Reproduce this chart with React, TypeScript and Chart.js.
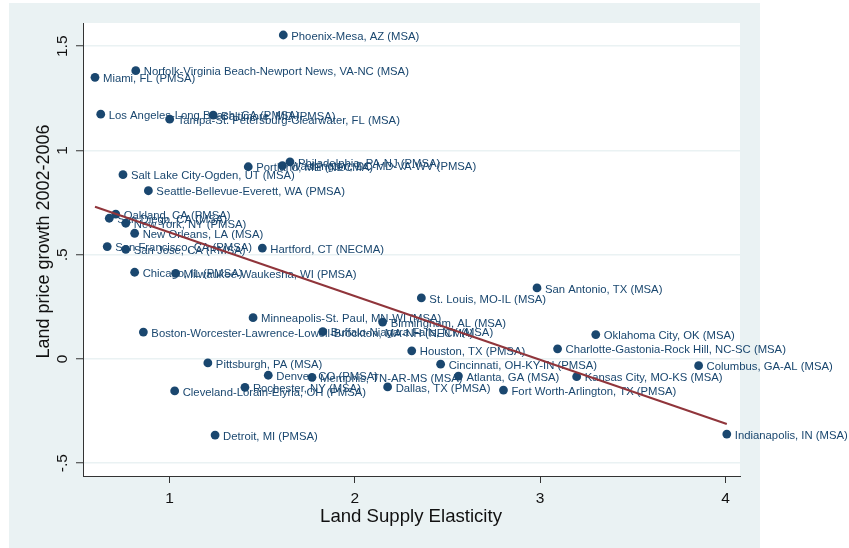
import React, { useEffect, useRef } from "react";
import { Chart, registerables } from "chart.js";

Chart.register(...registerables);

const cityNames: string[] = [
  "Phoenix-Mesa, AZ (MSA)",
  "Norfolk-Virginia Beach-Newport News, VA-NC (MSA)",
  "Miami, FL (PMSA)",
  "Los Angeles-Long Beach, CA (PMSA)",
  "Baltimore, MD (PMSA)",
  "Tampa-St. Petersburg-Clearwater, FL (MSA)",
  "Portland, ME (NECMA)",
  "Washington, DC-MD-VA-WV (PMSA)",
  "Philadelphia, PA-NJ (PMSA)",
  "Salt Lake City-Ogden, UT (MSA)",
  "Seattle-Bellevue-Everett, WA (PMSA)",
  "Oakland, CA (PMSA)",
  "San Diego, CA (MSA)",
  "New York, NY (PMSA)",
  "New Orleans, LA (MSA)",
  "San Francisco, CA (PMSA)",
  "San Jose, CA (PMSA)",
  "Hartford, CT (NECMA)",
  "Chicago, IL (PMSA)",
  "Milwaukee-Waukesha, WI (PMSA)",
  "St. Louis, MO-IL (MSA)",
  "San Antonio, TX (MSA)",
  "Minneapolis-St. Paul, MN-WI (MSA)",
  "Birmingham, AL (MSA)",
  "Boston-Worcester-Lawrence-Lowell-Brockton, MA-NH (NECMA)",
  "Buffalo-Niagara Falls, NY (MSA)",
  "Oklahoma City, OK (MSA)",
  "Charlotte-Gastonia-Rock Hill, NC-SC (MSA)",
  "Houston, TX (PMSA)",
  "Pittsburgh, PA (MSA)",
  "Cincinnati, OH-KY-IN (PMSA)",
  "Columbus, GA-AL (MSA)",
  "Denver, CO (PMSA)",
  "Memphis, TN-AR-MS (MSA)",
  "Atlanta, GA (MSA)",
  "Kansas City, MO-KS (MSA)",
  "Rochester, NY (MSA)",
  "Cleveland-Lorain-Elyria, OH (PMSA)",
  "Dallas, TX (PMSA)",
  "Fort Worth-Arlington, TX (PMSA)",
  "Detroit, MI (PMSA)",
  "Indianapolis, IN (MSA)",
];

const elasticity: number[] = [
  1.614, 0.818, 0.598, 0.629, 1.236, 1.001, 1.425, 1.609, 1.65, 0.749, 0.886,
  0.71, 0.675, 0.764, 0.812, 0.664, 0.764, 1.501, 0.812, 1.033, 2.359, 2.983,
  1.451, 2.15, 0.859, 1.827, 3.3, 3.094, 2.307, 1.207, 2.463, 3.855, 1.533,
  1.769, 2.559, 3.197, 1.407, 1.028, 2.177, 2.802, 1.246, 4.007,
];

const priceGrowth: number[] = [
  1.554, 1.383, 1.351, 1.174, 1.17, 1.15, 0.922, 0.927, 0.945, 0.884, 0.807,
  0.695, 0.675, 0.651, 0.603, 0.539, 0.526, 0.532, 0.416, 0.411, 0.293, 0.341,
  0.198, 0.177, 0.129, 0.131, 0.117, 0.049, 0.039, -0.019, -0.025, -0.032,
  -0.078, -0.088, -0.082, -0.085, -0.136, -0.153, -0.134, -0.149, -0.365,
  -0.36,
];

const fitX: number[] = [0.598, 4.007];
const fitY: number[] = [0.73, -0.312];

const xTickValues: number[] = [1, 2, 3, 4];
const yTickValues: number[] = [-0.5, 0, 0.5, 1, 1.5];
const yTickLabels: string[] = ["-.5", "0", ".5", "1", "1.5"];

const xTitle = "Land Supply Elasticity";
const yTitle = "Land price growth 2002-2006";

const FONT = '"Liberation Sans", Arial, Helvetica, sans-serif';
const NAVY = "#1a476f";
const MAROON = "#90353b";
const BG = "#eaf2f3";

export default function App() {
  const canvasRef = useRef<HTMLCanvasElement | null>(null);

  useEffect(() => {
    const canvas = canvasRef.current;
    if (!canvas) return;

    const bgPlugin = {
      id: "stataBg",
      beforeDraw(chart: any) {
        const ctx = chart.ctx;
        const a = chart.chartArea;
        ctx.save();
        ctx.fillStyle = "#ffffff";
        ctx.fillRect(0, 0, chart.width, chart.height);
        ctx.fillStyle = BG;
        ctx.fillRect(9, 3, 751, 545);
        ctx.fillStyle = "#ffffff";
        ctx.fillRect(a.left, a.top, a.right - a.left, a.bottom - a.top);
        ctx.restore();
      },
      afterDraw(chart: any) {
        const ctx = chart.ctx;
        const a = chart.chartArea;
        ctx.save();
        ctx.fillStyle = "#111111";
        ctx.font = `18.6px ${FONT}`;
        ctx.textAlign = "center";
        ctx.textBaseline = "middle";
        ctx.fillText(xTitle, 411, 517);
        ctx.font = `18px ${FONT}`;
        ctx.translate(44, (a.top + a.bottom) / 2 - 8);
        ctx.rotate(-Math.PI / 2);
        ctx.fillText(yTitle, 0, 0);
        ctx.restore();
      },
    };

    const labelPlugin = {
      id: "pointLabels",
      afterDatasetDraw(chart: any, args: any) {
        if (args.index !== 1) return;
        const ctx = chart.ctx;
        const meta = chart.getDatasetMeta(1);
        ctx.save();
        ctx.fillStyle = NAVY;
        ctx.font = `11.3px ${FONT}`;
        ctx.textAlign = "left";
        ctx.textBaseline = "middle";
        meta.data.forEach((pt: any, i: number) => {
          ctx.fillText(cityNames[i], pt.x + 8, pt.y + 1.5);
        });
        ctx.restore();
      },
    };

    const chart = new Chart(canvas, {
      type: "scatter",
      data: {
        datasets: [
          {
            type: "line",
            label: "Fitted values",
            data: fitX.map((x, i) => ({ x, y: fitY[i] })),
            borderColor: MAROON,
            borderWidth: 2,
            pointRadius: 0,
            fill: false,
            showLine: true,
          } as any,
          {
            label: "Land price growth",
            data: elasticity.map((x, i) => ({ x, y: priceGrowth[i] })),
            backgroundColor: NAVY,
            borderColor: NAVY,
            borderWidth: 0,
            pointRadius: 4.4,
          },
        ],
      },
      options: {
        responsive: false,
        maintainAspectRatio: false,
        animation: false,
        events: [],
        layout: { padding: { left: 0, top: 23, right: 109, bottom: 0 } },
        plugins: {
          legend: { display: false },
          tooltip: { enabled: false },
          title: { display: false },
        },
        scales: {
          x: {
            type: "linear",
            min: 0.5333,
            max: 4.0783,
            afterBuildTicks(scale: any) {
              scale.ticks = xTickValues.map((v) => ({ value: v }));
            },
            afterFit(scale: any) {
              scale.height = 72;
            },
            ticks: {
              color: "#111111",
              font: { family: FONT, size: 15.5 },
              padding: 6,
              maxRotation: 0,
              minRotation: 0,
              callback: (v: any) => String(v),
            },
            grid: {
              drawOnChartArea: false,
              drawTicks: true,
              tickLength: 7,
              tickColor: "#333333",
              tickWidth: 1,
            },
            border: { display: true, color: "#333333", width: 1 },
          },
          y: {
            type: "linear",
            min: -0.5612,
            max: 1.6115,
            afterBuildTicks(scale: any) {
              scale.ticks = yTickValues.map((v) => ({ value: v }));
            },
            afterFit(scale: any) {
              scale.width = 83;
            },
            ticks: {
              color: "#111111",
              font: { family: FONT, size: 15.5 },
              padding: 3,
              minRotation: 90,
              maxRotation: 90,
              crossAlign: "center",
              callback: (v: any) => {
                const idx = yTickValues.indexOf(Number(v));
                return idx >= 0 ? yTickLabels[idx] : "";
              },
            },
            grid: {
              drawOnChartArea: true,
              drawTicks: true,
              tickLength: 7,
              color: BG,
              lineWidth: 1.5,
              tickColor: "#333333",
              tickWidth: 1,
            },
            border: { display: true, color: "#333333", width: 1 },
          },
        },
      },
      plugins: [bgPlugin, labelPlugin],
    });

    return () => {
      chart.destroy();
    };
  }, []);

  return (
    <div style={{ position: "absolute", left: 0, top: 0, width: 849, height: 548 }}>
      <canvas ref={canvasRef} width={849} height={548} style={{ display: "block" }} />
    </div>
  );
}
